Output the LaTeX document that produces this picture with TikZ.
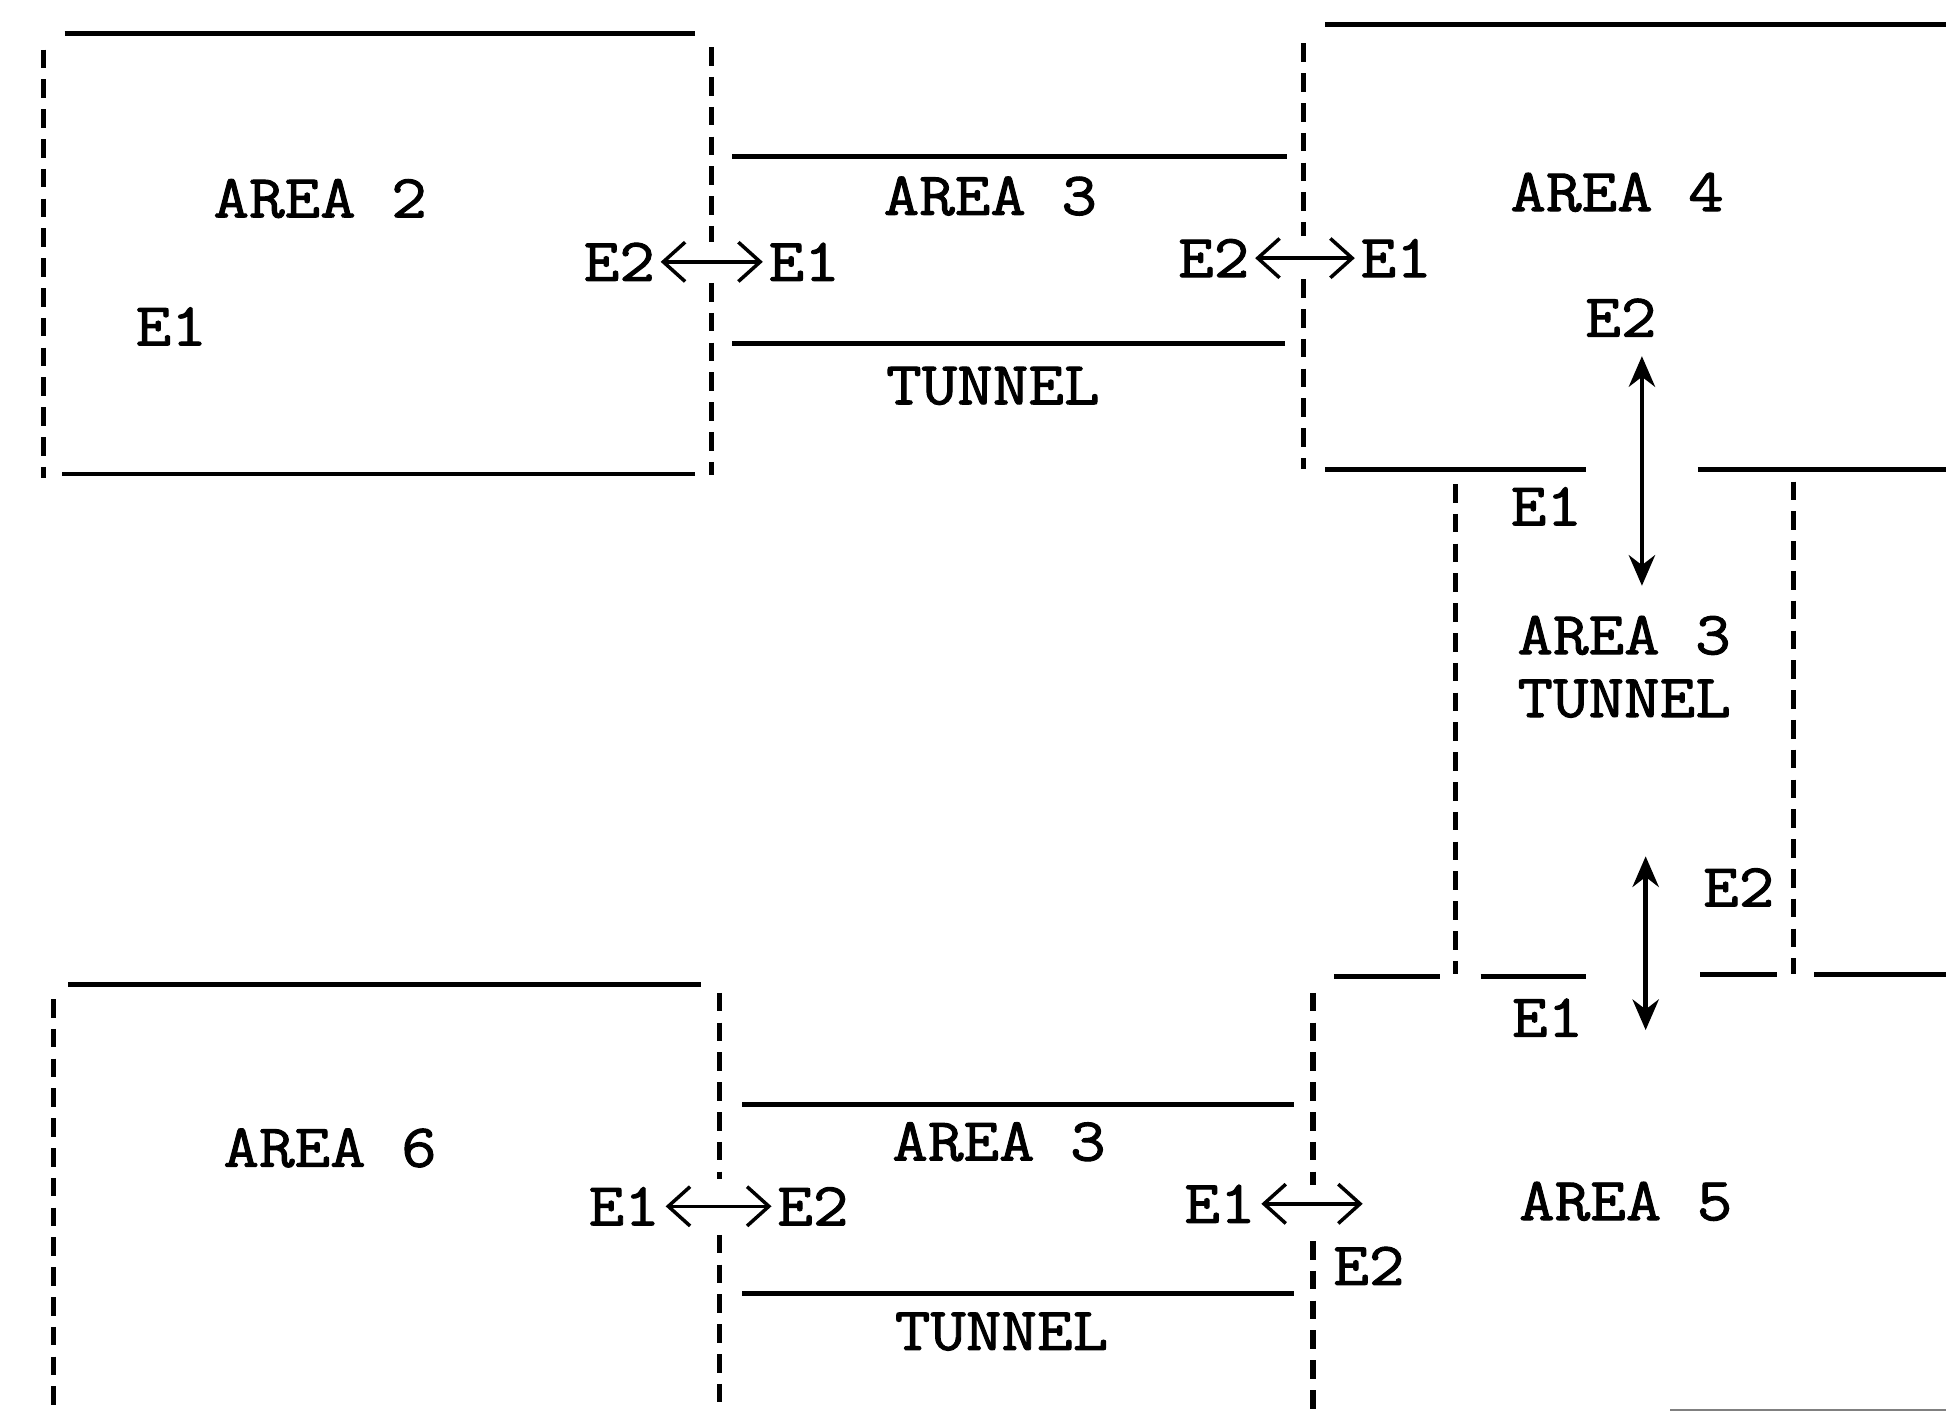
\documentclass[tikz,border=0pt]{standalone}
\usepackage{fontspec}
\newfontfamily\typefont{Latin Modern Mono}[FakeStretch=1.13,FakeBold=1.6]
\usetikzlibrary{arrows.meta}
\begin{document}
\begin{tikzpicture}[x=0.01cm,y=-0.01cm,
  wall/.style={line width=1.1pt},
  open/.style={line width=1.2pt,dash pattern=on 0.15cm off 0.09cm},
  lbl/.style={font=\fontsize{14}{15}\typefont,inner sep=0pt,anchor=center},
  harrow/.style={{Straight Barb[length=5pt,width=9pt]}-{Straight Barb[length=5pt,width=9pt]},line width=0.8pt},
  varrow/.style={{Stealth[length=7pt,width=6pt]}-{Stealth[length=7pt,width=6pt]},line width=1.1pt}]
\useasboundingbox (0,0) rectangle (1568,1137);
% ---- AREA 2
\draw[wall] (52,27) -- (560,27);
\draw[wall] (50,382) -- (560,382);
\draw[open] (35,40) -- (35,385);
\draw[open] (573,38) -- (573,195);
\draw[open] (573,228) -- (573,383);
\node[lbl] (a2) at (258,160) {AREA 2};
\node[lbl] (a2e1) at (138,263) {E1};
% ---- top tunnel
\draw[wall] (590,126) -- (1037,126);
\draw[wall] (590,277) -- (1035,277);
\node[lbl] (t1a) at (798,158) {AREA 3};
\node[lbl] (t1b) at (800,311) {TUNNEL};
\node[lbl] (j1l) at (499,211) {E2};
\node[lbl] (j1r) at (648,211) {E1};
\draw[harrow] ([xshift=0.04cm]j1l.east) -- ([xshift=-0.04cm]j1r.west);
% ---- AREA 4
\draw[open] (1050,35) -- (1050,190);
\draw[open] (1050,225) -- (1050,378);
\draw[wall] (1068,20) -- (1568,20);
\draw[wall] (1068,378) -- (1278,378);
\draw[wall] (1368,378) -- (1568,378);
\node[lbl] (a4) at (1303,155) {AREA 4};
\node[lbl] (j2l) at (978,208) {E2};
\node[lbl] (j2r) at (1125,208) {E1};
\draw[harrow] ([xshift=0.04cm]j2l.east) -- ([xshift=-0.04cm]j2r.west);
\node[lbl] (a4e2) at (1306,256) {E2};
% ---- vertical tunnel
\draw[open] (1173,390) -- (1173,785);
\draw[open] (1445,388) -- (1445,785);
\node[lbl] (vte1) at (1246,408) {E1};
\node[lbl,anchor=west] (vta) at (1222,512) {AREA 3};
\node[lbl,anchor=west] (vtb) at (1222,563) {TUNNEL};
\coordinate (v1top) at (1323,287);
\coordinate (v1bot) at (1323,472);
\draw[varrow] (v1top) -- (v1bot);
\node[lbl] (vte2) at (1401,715) {E2};
\node[lbl] (a5e1) at (1247,820) {E1};
\coordinate (v2top) at (1326,690);
\coordinate (v2bot) at (1326,830);
\draw[varrow] (v2top) -- (v2bot);
% ---- AREA 5
\draw[wall] (1075,787) -- (1160,787);
\draw[wall] (1193,787) -- (1278,787);
\draw[wall] (1370,785) -- (1432,785);
\draw[wall] (1462,785) -- (1568,785);
\draw[open] (1058,800) -- (1058,955);
\draw[open] (1058,1000) -- (1058,1137);
\node[lbl] (a5) at (1310,968) {AREA 5};
\node[lbl] (j4l) at (983,970) {E1};
\node[lbl] (j4r) at (1103,1020) {E2};
\coordinate (j4end) at (1098,970);
\draw[harrow] ([xshift=0.04cm]j4l.east) -- (j4end);
\draw[line width=0.5pt,gray] (1346,1136) -- (1568,1136);
% ---- AREA 6
\draw[wall] (55,793) -- (565,793);
\draw[open] (43,805) -- (43,1137);
\draw[open] (580,800) -- (580,950);
\draw[open] (580,995) -- (580,1137);
\node[lbl] (a6) at (266,925) {AREA 6};
\node[lbl] (j3l) at (503,972) {E1};
\node[lbl] (j3r) at (655,972) {E2};
\draw[harrow] ([xshift=0.04cm]j3l.east) -- ([xshift=-0.04cm]j3r.west);
% ---- bottom tunnel
\draw[wall] (598,890) -- (1043,890);
\draw[wall] (598,1042) -- (1043,1042);
\node[lbl] (t2a) at (805,920) {AREA 3};
\node[lbl] (t2b) at (807,1073) {TUNNEL};
\end{tikzpicture}
\end{document}
